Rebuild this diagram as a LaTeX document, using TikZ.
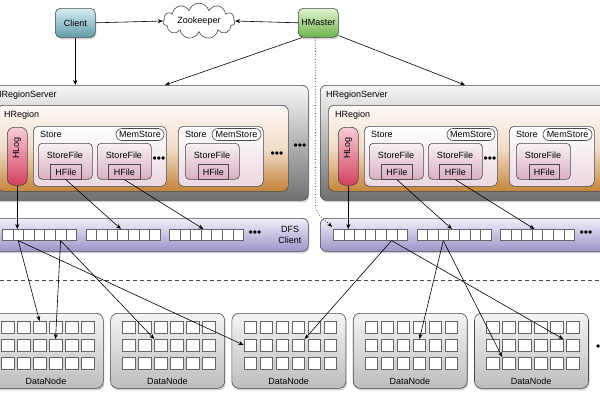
\documentclass[tikz,border=0pt]{standalone}
\usepackage{fontspec}
\setmainfont{Liberation Sans}
\usetikzlibrary{shapes.symbols,arrows.meta,shadows,calc}
\definecolor{clientTop}{HTML}{D6EDF1}
\definecolor{clientBot}{HTML}{5F9DA9}
\definecolor{hmTop}{HTML}{E2F5D3}
\definecolor{hmBot}{HTML}{6DB34A}
\definecolor{rsTop}{HTML}{F6F6F6}
\definecolor{rsBot}{HTML}{707070}
\definecolor{hrTop}{HTML}{FDF9F6}
\definecolor{hrMid}{HTML}{F1DCC8}
\definecolor{hrBot}{HTML}{C4843A}
\definecolor{stBot}{HTML}{EAD7DF}
\definecolor{sfTop}{HTML}{F8F0F4}
\definecolor{sfBot}{HTML}{D8AFC1}
\definecolor{hlTop}{HTML}{F6CDD6}
\definecolor{hlBot}{HTML}{D23F5E}
\definecolor{dfsTop}{HTML}{F1EFF9}
\definecolor{dfsBot}{HTML}{9C94C8}
\definecolor{dnTop}{HTML}{F4F4F4}
\definecolor{dnBot}{HTML}{BDBDBD}
\definecolor{edge}{HTML}{4A4A4A}
\begin{document}
\begin{tikzpicture}[x=1pt,y=-1pt,font=\fontsize{9}{11}\selectfont,
  box/.style={draw=edge,line width=0.6pt,inner sep=0pt,anchor=north west},
  sh/.style={drop shadow={opacity=0.35,shadow xshift=1pt,shadow yshift=-2pt}},
  cell/.style={draw=edge!85,line width=0.6pt,fill=white,inner sep=0pt,anchor=north west},
  txt/.style={inner sep=0pt},
  dots/.style={inner sep=0pt,font=\fontsize{12}{12}\selectfont},
  arr/.style={-{Stealth[length=5pt,width=4pt]},line width=0.6pt,black}]
\useasboundingbox (0,0) rectangle (600,400);

% top row
\node[box,rounded corners=5pt,top color=clientTop,bottom color=clientBot,minimum width=40pt,minimum height=29pt,sh] (client) at (55,8) {Client};
\node[box,rounded corners=5pt,top color=hmTop,bottom color=hmBot,minimum width=40pt,minimum height=29pt,sh] (hm) at (298,8) {HMaster};
\node[cloud,draw=edge,line width=0.6pt,fill=white,cloud puffs=11,aspect=2.6,minimum width=72pt,minimum height=30pt,inner sep=0pt] (zk) at (199,21) {Zookeeper};

% region servers
\foreach \i/\s in {1/0,2/331}{
\begin{scope}[xshift=\s pt]
  \node[box,rounded corners=6pt,top color=rsTop,bottom color=rsBot,minimum width=319pt,minimum height=115pt,sh] (rs\i) at (-11,85) {};
  \node[txt,anchor=west] (rsl\i) at (-5,95) {HRegionServer};
  \node[box,rounded corners=6pt,top color=hrTop,bottom color=hrBot,middle color=hrMid,minimum width=291pt,minimum height=86pt] (hr\i) at (-3,105) {};
  \node[txt,anchor=west] (hrl\i) at (4,115) {HRegion};
  \node[box,rounded corners=7pt,top color=hlTop,bottom color=hlBot,minimum width=20pt,minimum height=58pt] (hl\i) at (7,127) {};
  \node[txt,rotate=90] (hlt\i) at (17,148) {HLog};
  % store a
  \node[box,rounded corners=5pt,top color=white,bottom color=stBot,minimum width=133pt,minimum height=60pt] (sa\i) at (33,126) {};
  \node[txt,anchor=west] (sal\i) at (40,134) {Store};
  \node[box,anchor=center,rounded corners=6pt,fill=white,minimum width=48pt,minimum height=12pt] (ma\i) at (140,134.5) {MemStore};
  \node[box,rounded corners=4pt,top color=sfTop,bottom color=sfBot,minimum width=54pt,minimum height=36pt] (sf\i-1) at (38,143) {};
  \node[txt] (sft\i-1) at (65,155) {StoreFile};
  \node[box,top color=sfTop!40!sfBot,bottom color=sfBot,minimum width=31pt,minimum height=15pt] (hf\i-1) at (50,164) {HFile};
  \node[box,rounded corners=4pt,top color=sfTop,bottom color=sfBot,minimum width=54pt,minimum height=36pt] (sf\i-2) at (97,143) {};
  \node[txt] (sft\i-2) at (124,155) {StoreFile};
  \node[box,top color=sfTop!40!sfBot,bottom color=sfBot,minimum width=32pt,minimum height=15pt] (hf\i-2) at (108,164) {HFile};
  \node[dots] (dA\i) at (159,160) {•••};
  % store b
  \node[box,rounded corners=5pt,top color=white,bottom color=stBot,minimum width=85pt,minimum height=60pt] (sb\i) at (178,126) {};
  \node[txt,anchor=west] (sbl\i) at (185,134) {Store};
  \node[box,anchor=center,rounded corners=6pt,fill=white,minimum width=49pt,minimum height=12pt] (mb\i) at (236.5,134.5) {MemStore};
  \node[box,rounded corners=4pt,top color=sfTop,bottom color=sfBot,minimum width=54pt,minimum height=36pt] (sf\i-3) at (185,143) {};
  \node[txt] (sft\i-3) at (212,155) {StoreFile};
  \node[box,top color=sfTop!40!sfBot,bottom color=sfBot,minimum width=30pt,minimum height=15pt] (hf\i-3) at (198,164) {HFile};
  % DFS client band
  \node[box,rounded corners=6pt,top color=dfsTop,bottom color=dfsBot,minimum width=319pt,minimum height=33pt,sh] (dfs\i) at (-11,218) {};
  \foreach \r in {1,2,3}{
    \foreach \c in {1,...,7}{
      \node[cell,minimum width=10.6pt,minimum height=11pt] (b\i-\r-\c) at ({2+83.5*(\r-1)+10.6*(\c-1)},229) {};
    }
  }
  \node[dots] (bd\i) at (255,234) {•••};
  % arrows to DFS blocks
  \draw[arr] (hl\i.south) -- (hl\i.south |- b\i-1-2.north);
  \draw[arr] (hf\i-1.south) -- ([xshift=-2pt]b\i-2-4.north);
  \draw[arr] (hf\i-2.south) -- ([xshift=-3pt]b\i-3-4.north);
\end{scope}
}
% items visible only on the left server
\node[dots] (dB1) at (277,155) {•••};
\node[dots] (dC1) at (300,147) {•••};
\node[txt,align=center] (dfst1) at (290,235) {DFS\\Client};

% connectors at top
\coordinate (t1) at (165,85);
\coordinate (t2) at (465,85);
\draw[arr] (client.east) -- (zk.west);
\draw[arr] (hm.west) -- (zk.east);
\draw[arr] (client.south) -- (client.south |- rs1.north);
\draw[arr] ([xshift=4pt]hm.south west) -- (t1);
\draw[arr] ([yshift=2pt]hm.south east) -- (t2);
\draw[dotted,line width=0.7pt,-{Stealth[length=5pt,width=4pt]}] ([xshift=-3pt]hm.south) -- ++(0,165) .. controls +(0,12) and +(-8,-8) .. ([shift={(-1,-2)}]b2-1-1.north west);

% separator
\draw[edge,line width=0.6pt,dash pattern=on 4pt off 3pt] (0,280) -- (600,280);

% data nodes
\foreach \k in {1,...,5}{
  \pgfmathsetmacro\xo{-11+121.3*(\k-1)}
  \node[box,rounded corners=7pt,top color=dnTop,bottom color=dnBot,minimum width=114pt,minimum height=75pt,sh] (dn\k) at (\xo,313) {};
  \foreach \r in {1,2,3}{
    \foreach \c in {1,...,6}{
      \node[cell,minimum width=12.5pt,minimum height=11.5pt] (d\k-\r-\c) at ({\xo+12+16*(\c-1)},{321+18*(\r-1)}) {};
    }
  }
  \node[txt] (dnl\k) at ({\xo+57},381) {DataNode};
}
\node[dots,anchor=west] (dnd) at (596,348) {•••};

% DFS to DataNode arrows
\draw[arr] (b1-1-2.south) -- (d1-1-3.north);
\draw[arr] (b1-1-2.south) -- (d3-2-1.west);
\draw[arr] (b1-1-6.south) -- (d1-2-4.north);
\draw[arr] (b1-1-6.south) -- (d2-2-3.north west);
\draw[arr] (b2-1-6.south) -- (d3-2-4.north east);
\draw[arr] (b2-1-6.south) -- (d5-2-5.north east);
\draw[arr] (b2-2-3.south) -- (d4-2-4.north);
\draw[arr] (b2-2-3.south) -- (d5-3-2.north west);
\end{tikzpicture}
\end{document}
